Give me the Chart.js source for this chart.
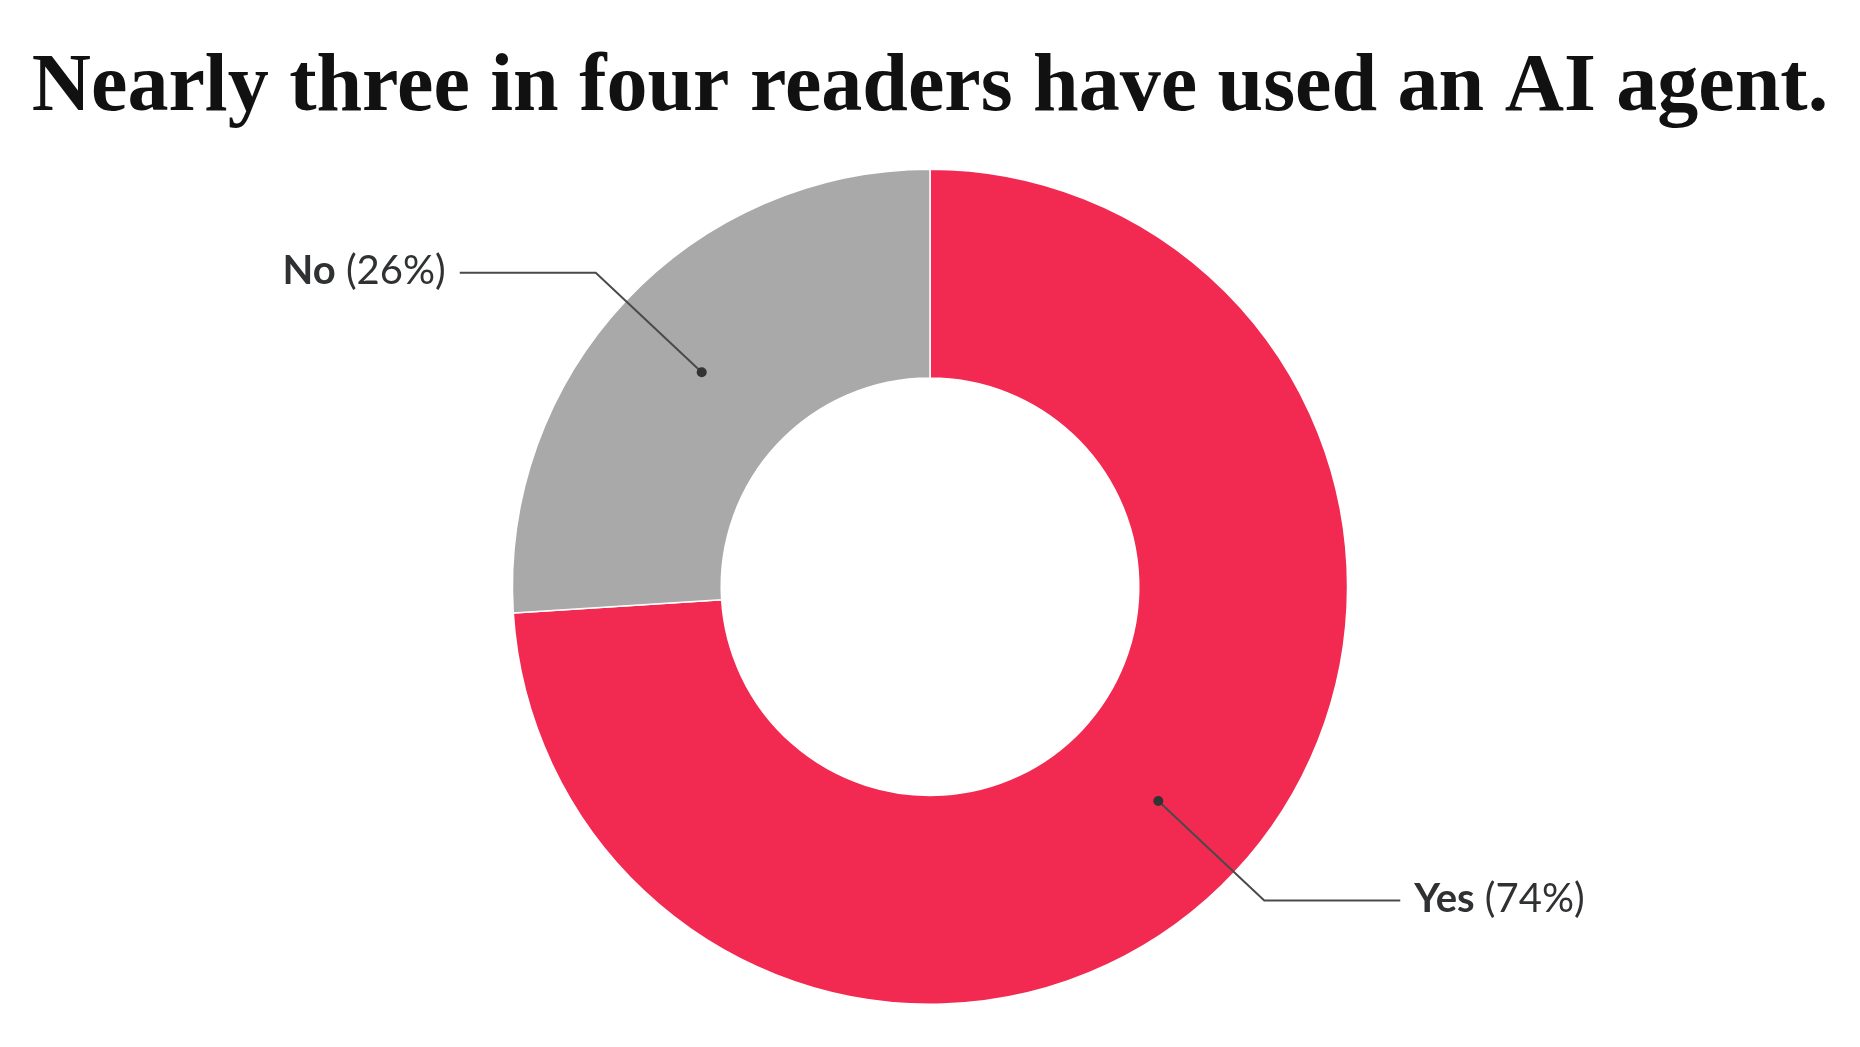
<!DOCTYPE html>
<html>
<head>
<meta charset="utf-8">
<script src="https://cdn.jsdelivr.net/npm/chart.js@4"></script>
<style>
  html, body { margin: 0; padding: 0; background: #fff; }
  #wrap { width: 1860px; height: 1047px; }
</style>
</head>
<body>
<div id="wrap"><canvas id="chart"></canvas></div>
<script>
// Data
const answers = ['Yes', 'No'];
const shares = [74, 26];
const colors = ['#f22a52', '#a9a9a9'];

// Leader lines with labels
const leaderLabels = {
    id: 'leaderLabels',
    afterDatasetsDraw(chart) {
        const ctx = chart.ctx;
        const meta = chart.getDatasetMeta(0);
        meta.data.forEach((arc, i) => {
            const p = arc.getProps(['x', 'y', 'startAngle', 'endAngle', 'innerRadius', 'outerRadius'], true);
            const mid = (p.startAngle + p.endAngle) / 2;
            const cos = Math.cos(mid), sin = Math.sin(mid);
            const r = (p.innerRadius + p.outerRadius) / 2;
            const dx = p.x + cos * r, dy = p.y + sin * r;
            const ex = p.x + cos * (p.outerRadius + 41), ey = p.y + sin * (p.outerRadius + 41);
            const right = cos >= 0;
            const hx = ex + (right ? 136 : -136);

            ctx.save();
            ctx.strokeStyle = '#4a4a4a';
            ctx.lineWidth = 2;
            ctx.beginPath();
            ctx.moveTo(dx, dy);
            ctx.lineTo(ex, ey);
            ctx.lineTo(hx, ey);
            ctx.stroke();

            ctx.fillStyle = '#333';
            ctx.beginPath();
            ctx.arc(dx, dy, 5, 0, Math.PI * 2);
            ctx.fill();

            const bold = answers[i];
            const rest = ' (' + shares[i] + '%)';
            const boldFont = '700 40px Lato';
            const restFont = '400 40px Lato';
            ctx.textBaseline = 'alphabetic';
            ctx.font = boldFont;
            const bw = ctx.measureText(bold).width;
            ctx.font = restFont;
            const rw = ctx.measureText(rest).width;
            const tx = right ? hx + 14 : hx - 14 - bw - rw;
            const ty = ey + 11;
            ctx.fillStyle = '#2f3133';
            ctx.textAlign = 'left';
            ctx.font = boldFont;
            ctx.fillText(bold, tx, ty);
            ctx.font = restFont;
            ctx.fillText(rest, tx + bw, ty);
            ctx.restore();
        });
    }
};

new Chart(document.getElementById('chart'), {
    type: 'doughnut',
    data: {
        labels: answers,
        datasets: [{
            data: shares,
            backgroundColor: colors,
            borderColor: '#ffffff',
            borderWidth: 1.5,
            hoverOffset: 0
        }]
    },
    options: {
        responsive: true,
        maintainAspectRatio: false,
        animation: false,
        cutout: '50%',
        events: [],
        layout: {
            padding: { top: 0, bottom: 42, left: 0, right: 0 }
        },
        plugins: {
            legend: { display: false },
            tooltip: { enabled: false },
            title: {
                display: true,
                text: 'Nearly three in four readers have used an AI agent.',
                color: '#111',
                font: { family: '"Liberation Serif", "Times New Roman", serif', size: 82, weight: 'bold', lineHeight: 1.2 },
                padding: { top: 40, bottom: 30 }
            }
        }
    },
    plugins: [leaderLabels]
});
</script>
</body>
</html>
